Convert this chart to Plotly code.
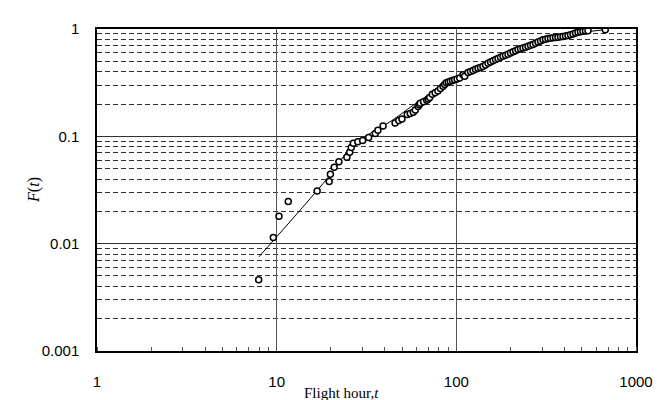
import plotly.graph_objects as go

t_obs = [7.94, 9.58, 10.3, 11.6, 16.8, 19.6, 19.9, 20.9, 22.2, 24.6, 25.5, 26.0, 26.7,
         28.3, 30.1, 32.5, 35.4, 36.6, 39.1, 45.6, 47.8, 49.8, 53.3, 55.4, 57.6, 59.1,
         61.2, 62.1, 63.0, 65.7, 68.4, 69.7, 71.1, 73.5, 76.2, 79.0, 81.6, 84.3, 86.1,
         87.9, 90.2, 92.5, 95.2, 97.9, 101.0, 104.4, 108.9, 111.3, 116.1, 119.9, 123.8,
         127.8, 132.0, 136.3, 140.7, 145.3, 150.1, 155.0, 160.0, 165.2, 170.6, 176.1,
         181.8, 187.8, 193.9, 200.3, 206.8, 213.5, 220.4, 227.6, 235.0, 242.7, 250.6,
         258.8, 267.2, 275.9, 284.8, 294.1, 303.7, 313.5, 323.7, 334.2, 345.1, 356.4,
         368.0, 380.0, 392.4, 405.1, 418.3, 431.9, 446.0, 460.5, 475.5, 491.0, 507.0,
         523.5, 540.5, 674.5]
F_obs = [0.0046, 0.0114, 0.018, 0.0247, 0.031, 0.0379, 0.0443, 0.0515, 0.058, 0.064,
         0.0711, 0.0785, 0.086, 0.089, 0.0915, 0.0975, 0.106, 0.114, 0.1247, 0.1328,
         0.1406, 0.1454, 0.1595, 0.163, 0.1675, 0.176, 0.19, 0.197, 0.2036, 0.21, 0.217,
         0.223, 0.2296, 0.246, 0.255, 0.264, 0.279, 0.2935, 0.304, 0.315, 0.32, 0.326,
         0.331, 0.337, 0.343, 0.349, 0.3745, 0.362, 0.394, 0.402, 0.411, 0.421, 0.431,
         0.439, 0.447, 0.463, 0.479, 0.493, 0.507, 0.519, 0.532, 0.545, 0.5585, 0.570,
         0.5825, 0.597, 0.6126, 0.628, 0.643, 0.654, 0.666, 0.677, 0.689, 0.704, 0.719,
         0.737, 0.756, 0.774, 0.793, 0.804, 0.815, 0.821, 0.827, 0.833, 0.840, 0.845,
         0.851, 0.860, 0.869, 0.884, 0.900, 0.916, 0.933, 0.943, 0.953, 0.959, 0.965,
         0.985]

# Fitted curve
t_fit = [7.98, 19.3, 26.9, 43.3, 57.4, 89.8, 150, 250.6, 418, 672]
F_fit = [0.00756, 0.0412, 0.0836, 0.1385, 0.194, 0.3146, 0.489, 0.699, 0.882, 0.985]

x_tickvals = [1, 10, 100, 1000]
x_ticktext = ["1", "10", "100", "1000"]
y_tickvals = [0.001, 0.01, 0.1, 1]
y_ticktext = ["0.001", "0.01", "0.1", "1"]

fig = go.Figure()
fig.add_trace(go.Scatter(x=t_fit, y=F_fit, mode="lines",
                         line=dict(color="black", width=1), line_shape="spline",
                         hoverinfo="skip", showlegend=False))
fig.add_trace(go.Scatter(x=t_obs, y=F_obs, mode="markers",
                         marker=dict(symbol="circle", size=6, color="white",
                                     line=dict(color="black", width=1.5)),
                         showlegend=False))

tick_font = dict(family="Liberation Sans, Arial, sans-serif", size=15, color="black")

fig.update_layout(
    width=664, height=400,
    margin=dict(l=89, r=36, t=15, b=57),
    paper_bgcolor="white", plot_bgcolor="white",
    xaxis=dict(type="log", range=[0, 3], tickvals=x_tickvals, ticktext=x_ticktext,
               tickfont=tick_font, showgrid=True, gridcolor="#555", gridwidth=1,
               showline=True, linecolor="black", linewidth=1.5, mirror=True,
               ticks="", ticklabelstandoff=16, zeroline=False,
               minor=dict(ticks="inside", ticklen=4, tickcolor="#555",
                          dtick="D1", showgrid=False)),
    yaxis=dict(type="log", range=[-3, 0], tickvals=y_tickvals, ticktext=y_ticktext,
               tickfont=tick_font, showgrid=True, gridcolor="#333", gridwidth=1,
               showline=True, linecolor="black", linewidth=1.5, mirror=True,
               ticks="", ticklabelstandoff=13, zeroline=False,
               minor=dict(dtick="D1", showgrid=True, griddash="5px,3px",
                          gridcolor="#333", gridwidth=1, ticks="")),
    annotations=[
        dict(text="Flight hour,<i>t</i>", xref="paper", yref="paper",
             x=0.453, y=-0.131, xanchor="center", yanchor="middle", showarrow=False,
             font=dict(family="Liberation Serif, Times New Roman, serif", size=15,
                       color="black")),
        dict(text="<i>F</i>(<i>t</i>)", xref="paper", yref="paper",
             x=-0.117, y=0.5, textangle=-90, xanchor="center", yanchor="middle",
             showarrow=False,
             font=dict(family="Liberation Serif, Times New Roman, serif", size=16,
                       color="black")),
    ],
)

fig.write_html("out.html")
